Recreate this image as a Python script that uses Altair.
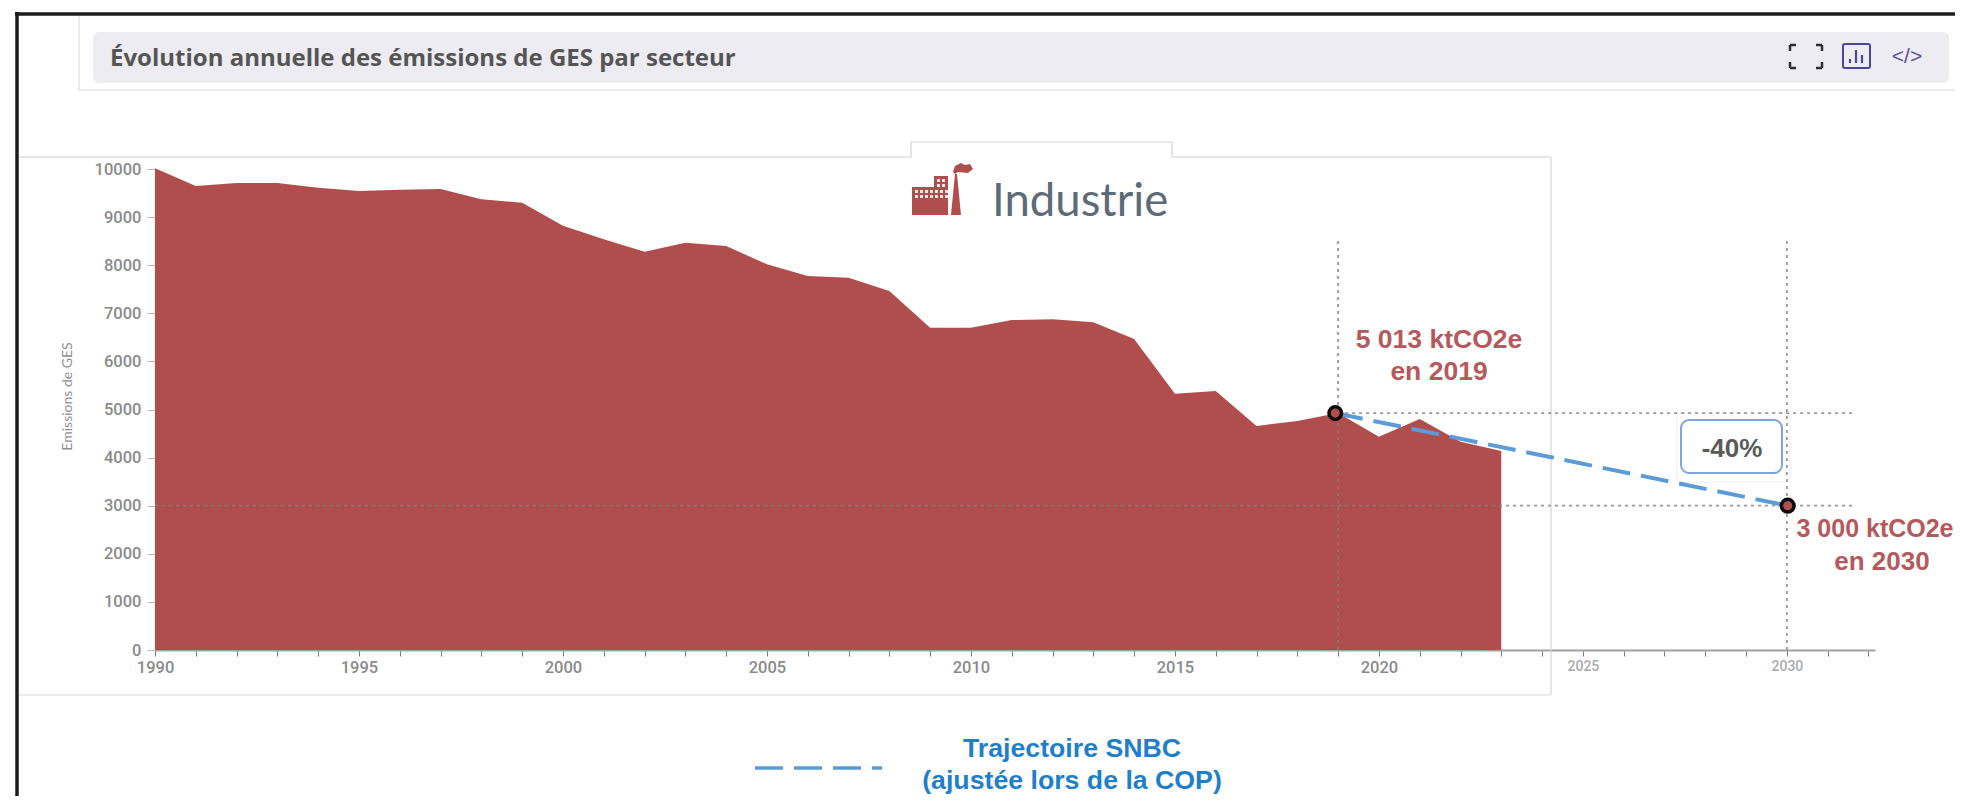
import altair as alt
import pandas as pd

YEARS = list(range(1990, 2024))
EMISSIONS = [10015, 9647, 9709, 9709, 9612, 9543, 9570, 9584, 9370, 9300,
             8822, 8540, 8281, 8468, 8399, 8019, 7775, 7740, 7464, 6701,
             6701, 6861, 6875, 6813, 6466, 5329, 5385, 4657, 4761, 4925,
             4435, 4802, 4331, 4137]
TRAJ_YEARS = [2018.93, 2030.02]
TRAJ_VALUES = [4925, 3000]
Y_TICKS = list(range(0, 11000, 1000))
X_TICKS = list(range(1990, 2033))
TITLE = "Évolution annuelle des émissions de GES par secteur"
LOGO = "Industrie"
Y_TITLE = "Emissions de GES"
LABEL_2019 = ["5 013 ktCO2e", "en 2019"]
LABEL_2030 = ["3 000 ktCO2e", "en 2030"]
LEGEND = ["Trajectoire SNBC", "(ajustée lors de la COP)"]
BADGE = "-40%"

OX, OY = 155, 169
W, H = 1720, 481
X_SCALE = alt.Scale(domain=[1990, 2032.16], nice=False, zero=False)
Y_SCALE = alt.Scale(domain=[0, 10000], nice=False)
RED = "#b04e4e"
SANS = "Liberation Sans"
EMPTY = {"values": [{}]}


def seg(x1, y1, x2, y2, color, width=1.0, dash=None, opacity=1.0):
    kw = dict(color=color, strokeWidth=width, opacity=opacity)
    if dash:
        kw["strokeDash"] = dash
    return alt.Chart(EMPTY).mark_rule(**kw).encode(
        x=alt.value(x1 - OX), x2=alt.value(x2 - OX),
        y=alt.value(y1 - OY), y2=alt.value(y2 - OY))


def box(x1, y1, x2, y2, fill="#ffffff", stroke=None, width=1.0, radius=0):
    kw = dict(fill=fill, cornerRadius=radius, opacity=1)
    if stroke:
        kw.update(stroke=stroke, strokeWidth=width)
    return alt.Chart(EMPTY).mark_rect(**kw).encode(
        x=alt.value(x1 - OX), x2=alt.value(x2 - OX),
        y=alt.value(y1 - OY), y2=alt.value(y2 - OY))


def txt(s, x, y, size, color, weight="normal", font=SANS, align="center"):
    return alt.Chart(EMPTY).mark_text(
        fontSize=size, color=color, fontWeight=weight, font=font,
        align=align, baseline="alphabetic").encode(
        x=alt.value(x - OX), y=alt.value(y - OY), text=alt.value(s))


def icon(polys, cx, cy, r, color):
    path = " ".join(
        "M " + " L ".join(f"{(px - cx) / r:.3f} {(py - cy) / r:.3f}" for px, py in p) + " Z"
        for p in polys)
    return alt.Chart(EMPTY).mark_point(
        shape=path, size=(2 * r) ** 2, filled=True, color=color, opacity=1, strokeWidth=0
    ).encode(x=alt.value(cx - OX), y=alt.value(cy - OY))


chrome = [
    # outer black frame
    seg(15, 14, 1963, 14, "#1c1c1c", 3.5),
    seg(17, 12, 17, 804, "#1c1c1c", 3.5),
    # header panel
    seg(79, 16, 79, 90, "#dddddd", 1.2),
    seg(79, 90, 1963, 90, "#e2e2e2", 1.5),
    box(93, 32, 1949, 83, fill="#eeecf3", radius=6),
    txt(TITLE, 110, 66, 24, "#555555", "bold", "Open Sans", "left"),
    # chart panel
    seg(19, 157, 1551, 157, "#cfcfcf", 1.2),
    seg(1551, 157, 1551, 695, "#d4d4d4", 1.2),
    seg(19, 695, 1551, 695, "#e4e4e4", 1.5),
    # logo tile
    box(911, 142, 1172, 222),
    seg(911, 142, 1172, 142, "#d2d2d2", 1.2),
    seg(911, 142, 911, 157, "#d2d2d2", 1.2),
    seg(1172, 142, 1172, 157, "#d2d2d2", 1.2),
]

factory = [
    [(912, 187), (934, 187), (934, 176), (948, 176), (948, 215), (912, 215)],
    [(951, 215), (955, 174), (957, 174), (961, 215)],
    [(953, 172), (955, 166), (961, 163), (965, 165), (970, 164), (973, 169), (968, 173), (958, 172), (955, 174)],
]
windows = []
for row_y in (190, 195):
    for col_x in range(915, 947, 5):
        windows.append([(col_x, row_y), (col_x + 3, row_y), (col_x + 3, row_y + 3), (col_x, row_y + 3)])
for row_y in (179, 184):
    for col_x in (937, 942):
        windows.append([(col_x, row_y), (col_x + 3, row_y), (col_x + 3, row_y + 3), (col_x, row_y + 3)])

logo = [
    icon(factory, 942, 189, 31, RED),
    icon(windows, 942, 189, 31, "#f4e6e6"),
    txt(LOGO, 992, 216, 45.5, "#5d6b78", "normal", "Lato", "left"),
]

icons = []
for cx, cy, dx, dy in [(1790, 45, 1, 1), (1822, 45, -1, 1), (1790, 68, 1, -1), (1822, 68, -1, -1)]:
    icons.append(seg(cx, cy, cx + 6 * dx, cy, "#2c2c34", 2.5))
    icons.append(seg(cx, cy, cx, cy + 6 * dy, "#2c2c34", 2.5))
icons += [
    box(1843, 44, 1870, 68, fill="#eeecf3", stroke="#4f4596", width=2, radius=2),
    seg(1850, 59, 1850, 63, "#4f4596", 2.2),
    seg(1856, 50, 1856, 63, "#4f4596", 2.2),
    seg(1862, 55, 1862, 63, "#4f4596", 2.2),
    txt("</>", 1907, 63, 21, "#5b4fa0"),
]

area_df = pd.DataFrame({"year": YEARS, "value": EMISSIONS})
area = alt.Chart(area_df).mark_area(color=RED, opacity=1).encode(
    x=alt.X("year:Q", scale=X_SCALE, axis=alt.Axis(
        values=X_TICKS, title=None, grid=False, format="d",
        labelExpr="datum.value % 5 == 0 ? datum.value : ''",
        labelFont="Roboto", labelFontWeight=500, labelOverlap=False, labelFlush=False,
        labelFontSize={"condition": {"test": "datum.value > 2020", "value": 14}, "value": 16.5},
        labelColor={"condition": {"test": "datum.value > 2020", "value": "#aaaaaa"}, "value": "#8a8a8a"},
        labelPadding=3, tickSize=6, tickColor="#7d7d7d", tickWidth=1,
        domainColor="#a2a2a2", domainWidth=2)),
    y=alt.Y("value:Q", scale=Y_SCALE, axis=alt.Axis(
        values=Y_TICKS, title=Y_TITLE, grid=False, format="d", domain=False,
        labelFont="Roboto", labelFontWeight=500, labelFontSize=16.5, labelColor="#8a8a8a", labelPadding=6,
        tickSize=8, tickColor="#b5b5b5", tickWidth=1,
        titleFont="Lato", titleFontSize=14, titleFontWeight="normal", titleColor="#8f8f8f",
        titleX=-81, titleY=227)),
)

# dotted reference lines, in data units
refs_df = pd.DataFrame({
    "x": [2019.0, 2030.0, 2019.0, 1990.0],
    "x2": [2019.0, 2030.0, 2031.65, 2031.65],
    "y": [0, 0, 4925, 3000],
    "y2": [8570, 8530, 4925, 3000],
})
refs = alt.Chart(refs_df).mark_rule(color="#808080", strokeWidth=1.8, strokeDash=[3, 4], opacity=0.8).encode(
    x=alt.X("x:Q", scale=X_SCALE), x2="x2:Q",
    y=alt.Y("y:Q", scale=Y_SCALE), y2="y2:Q")

traj_df = pd.DataFrame({"year": TRAJ_YEARS, "value": TRAJ_VALUES})
traj = alt.Chart(traj_df).mark_line(color="#5b9bd8", strokeWidth=4, strokeDash=[28, 11]).encode(
    x=alt.X("year:Q", scale=X_SCALE), y=alt.Y("value:Q", scale=Y_SCALE))
points = alt.Chart(traj_df).mark_point(
    filled=True, fill=RED, stroke="#0c0c0c", strokeWidth=3.5, size=160, opacity=1).encode(
    x=alt.X("year:Q", scale=X_SCALE), y=alt.Y("value:Q", scale=Y_SCALE))

badge = [
    box(1677, 413, 1790, 482, fill="#ffffff", stroke="#eeeeee", width=1),
]
annot = [
    box(1681, 420, 1782, 473, fill="#ffffff", stroke="#7fa3dd", width=2, radius=8),
    txt(BADGE, 1732, 457, 26, "#5a5a5a", "bold"),
    txt(LABEL_2019[0], 1439, 348, 26.5, "#b45a5c", "bold"),
    txt(LABEL_2019[1], 1439, 380, 26.5, "#b45a5c", "bold"),
    txt(LABEL_2030[0], 1875, 537, 25, "#b45a5c", "bold"),
    txt(LABEL_2030[1], 1882, 570, 26, "#b45a5c", "bold"),
    seg(755, 768, 882, 768, "#5b9bd8", 3.5, [28, 11]),
    txt(LEGEND[0], 1072, 757, 26.7, "#1f7fc8", "bold"),
    txt(LEGEND[1], 1072, 789, 26.7, "#1f7fc8", "bold"),
]

chart = alt.layer(
    *chrome, *logo, *icons, area, *badge, refs, traj, points, *annot
).resolve_scale(x="shared", y="shared").properties(
    width=W, height=H,
    autosize=alt.AutoSizeParams(type="none"),
    padding={"left": OX - 8, "top": OY - 8, "right": 80, "bottom": 146},
    background="#ffffff",
).configure_view(stroke=None)

chart.save("out.html", embed_options={"renderer": "svg", "actions": False})
